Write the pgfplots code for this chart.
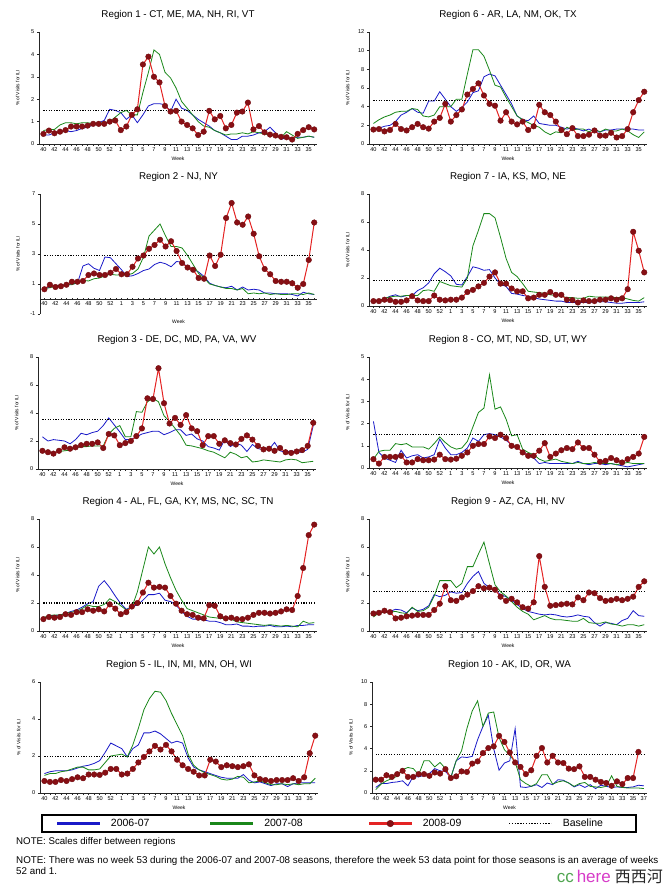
\documentclass[border=0pt]{standalone}
\usepackage{fontspec}
\setmainfont{Liberation Sans}
\newfontfamily\cjk{Noto Sans CJK SC}
\usepackage{pgfplots}
\pgfplotsset{compat=1.18}

\definecolor{c06}{RGB}{25,25,200}
\definecolor{c07}{RGB}{25,135,25}
\definecolor{c08}{RGB}{228,35,35}
\definecolor{mk}{RGB}{135,15,20}
\definecolor{wmgreen}{RGB}{80,165,80}
\definecolor{wmpink}{RGB}{215,60,200}

% one series = one column, rows separated by \\
\newcommand{\ser}[2]{\addplot[#1] table[x expr=\coordindex, y index=0, header=false, row sep=\\]{#2};}

\tikzset{wklabel/.style={at={(axis description cs:0.5,0)}, anchor=center, yshift=#1,
      inner sep=0pt, font=\fontsize{5}{6}\selectfont}}

\pgfplotsset{
  s06/.style={color=c06, draw=c06, line width=0.8pt, mark=none},
  s07/.style={color=c07, draw=c07, line width=0.8pt, mark=none},
  s08/.style={color=c08, draw=c08, line width=1pt, mark=*, mark size=2.8pt,
    mark options={solid, fill=mk, draw=mk!85!black, line width=0.4pt}},
  base/.style={color=black, draw=black, line width=1.1pt, dash pattern=on 1.1pt off 1.5pt, mark=none},
  panel/.style={
    scale only axis, width=278pt, height=112pt, anchor=north west, clip=false,
    xmin=-0.8, xmax=49.5,
    axis x line=bottom, axis y line=left,
    axis line style={-, black!85, line width=0.6pt},
    xtick={0,2,...,48},
    xticklabels={40,42,44,46,48,50,52,1,3,5,7,9,11,13,15,17,19,21,23,25,27,29,31,33,35},
    minor xtick={1,3,...,49},
    tick align=outside, major tick length=2pt, minor tick length=2pt,
    tick style={black!85, line width=0.5pt},
    x tick label style={font=\fontsize{5.6}{6}\selectfont, inner sep=1pt},
    y tick label style={font=\fontsize{5.6}{6}\selectfont, inner sep=2.5pt},
    /pgf/number format/assume math mode=true,
    title style={at={(axis description cs:0.5,1)}, anchor=center, yshift=11pt,
      font=\fontsize{9.8}{11}\selectfont},
    xlabel=Week,
    xlabel style={wklabel=-14.5pt},
    ylabel={\% of Visits for ILI},
    ylabel style={at={(axis description cs:-0.077,0.5)}, anchor=center,
      inner sep=0pt, font=\fontsize{4.8}{5}\selectfont},
  },
}

\begin{document}
\begin{tikzpicture}
\path[use as bounding box] (0pt,0pt) rectangle (667pt,-888pt);

% ---------------- Region 1
\begin{axis}[panel, at={(39pt,-32pt)}, ymin=0, ymax=5, ytick={0,1,...,5},
  title={Region 1 - CT, ME, MA, NH, RI, VT}]
\ser{s06}{0.4\\0.4\\0.5\\0.55\\0.6\\0.55\\0.6\\0.7\\0.75\\0.85\\
0.95\\1.05\\1.55\\1.5\\1.4\\1.1\\1.3\\0.95\\1.3\\1.7\\
1.8\\1.8\\1.75\\1.45\\2.0\\1.6\\1.5\\1.3\\1.1\\0.95\\
0.8\\0.6\\0.5\\0.35\\0.2\\0.2\\0.35\\0.35\\0.4\\0.5\\
0.55\\0.75\\0.5\\0.2\\0.3\\0.25\\0.3\\0.3\\0.35\\0.3\\}
\ser{s07}{0.6\\0.65\\0.65\\0.85\\0.95\\0.95\\0.9\\0.95\\0.95\\0.9\\
0.95\\0.95\\1.0\\1.2\\1.4\\1.5\\1.3\\1.3\\2.3\\3.2\\
4.2\\4.0\\3.2\\2.95\\2.5\\1.9\\1.6\\1.3\\1.0\\0.8\\
0.75\\0.6\\0.5\\0.4\\0.45\\0.45\\0.5\\0.45\\0.55\\0.5\\
0.45\\0.4\\0.35\\0.3\\0.55\\0.4\\0.25\\0.3\\0.35\\0.3\\}
\ser{s08}{0.45\\0.6\\0.48\\0.55\\0.62\\0.78\\0.78\\0.78\\0.82\\0.9\\
0.9\\0.9\\1.0\\1.05\\0.62\\0.78\\1.3\\1.55\\3.55\\3.9\\
3.0\\2.75\\1.7\\1.45\\1.48\\1.0\\0.85\\0.7\\0.4\\0.55\\
1.48\\1.1\\1.25\\0.7\\0.85\\1.4\\1.45\\1.85\\0.65\\0.8\\
0.52\\0.42\\0.38\\0.32\\0.3\\0.2\\0.45\\0.62\\0.75\\0.65\\}
\addplot[base] coordinates {(0,1.5) (49,1.5)};
\end{axis}

% ---------------- Region 6
\begin{axis}[panel, at={(369pt,-32pt)}, ymin=0, ymax=12, ytick={0,2,...,12},
  title={Region 6 - AR, LA, NM, OK, TX}]
\ser{s06}{1.6\\1.7\\1.9\\2.0\\2.4\\3.1\\3.4\\3.8\\3.4\\3.3\\
4.6\\4.6\\5.6\\4.8\\4.0\\3.5\\3.9\\4.5\\5.5\\5.7\\
7.2\\7.5\\7.3\\6.3\\5.3\\4.3\\3.0\\2.6\\2.5\\3.0\\
2.2\\2.1\\2.0\\2.0\\1.8\\1.6\\1.75\\1.6\\1.4\\1.6\\
1.3\\1.3\\1.5\\1.5\\1.6\\1.6\\1.6\\1.6\\1.5\\1.5\\}
\ser{s07}{2.2\\2.6\\2.9\\3.1\\3.4\\3.5\\3.5\\3.8\\3.7\\3.0\\
2.9\\3.1\\4.0\\4.0\\4.0\\4.8\\4.8\\7.5\\10.1\\10.1\\
9.4\\7.9\\6.3\\6.1\\5.0\\4.0\\3.0\\2.6\\2.3\\2.0\\
1.8\\1.3\\1.0\\1.3\\1.2\\1.8\\1.5\\1.6\\1.6\\1.3\\
1.6\\1.3\\1.6\\1.4\\1.4\\1.6\\1.4\\1.0\\0.7\\1.3\\}
\ser{s08}{1.55\\1.6\\1.35\\1.5\\2.15\\1.6\\1.45\\1.8\\2.15\\1.8\\
1.65\\2.4\\2.8\\4.3\\2.4\\3.1\\3.7\\5.3\\5.9\\6.5\\
5.2\\4.3\\4.1\\2.5\\3.4\\2.4\\2.1\\2.4\\1.5\\1.9\\
4.2\\3.4\\3.1\\2.4\\1.5\\1.05\\1.7\\0.85\\0.85\\1.0\\
1.45\\0.9\\0.9\\1.2\\0.7\\0.85\\1.6\\3.4\\4.7\\5.6\\}
\addplot[base] coordinates {(0,4.7) (49,4.7)};
\end{axis}

% ---------------- Region 2
\begin{axis}[panel, at={(40pt,-194pt)}, height=120pt, width=277pt,
  ymin=-1, ymax=7, ytick={-1,1,...,7},
  axis x line=middle, axis line style={-}, hide obscured x ticks=false,
  xlabel style={wklabel=-8pt},
  ylabel style={at={(axis description cs:-0.08,0.5)}},
  title={Region 2 - NJ, NY}]
\ser{s06}{0.7\\0.8\\0.9\\0.9\\0.95\\1.0\\1.05\\2.2\\2.35\\2.05\\
1.9\\2.8\\2.75\\2.35\\1.95\\1.5\\1.55\\1.7\\1.9\\2.0\\
2.3\\2.45\\2.35\\2.15\\2.5\\2.45\\2.1\\2.0\\1.8\\1.5\\
1.05\\0.9\\0.8\\0.75\\0.85\\0.6\\0.8\\0.6\\0.65\\0.6\\
0.4\\0.4\\0.35\\0.35\\0.35\\0.3\\0.2\\0.45\\0.35\\0.3\\}
\ser{s07}{0.7\\0.75\\0.85\\0.9\\0.95\\0.95\\1.1\\1.25\\1.2\\1.35\\
1.4\\1.55\\1.65\\1.6\\1.6\\1.6\\1.7\\2.0\\2.8\\4.2\\
4.6\\5.0\\4.2\\3.5\\3.5\\3.4\\2.9\\2.3\\1.7\\1.4\\
1.0\\0.9\\0.8\\0.7\\0.7\\0.6\\0.7\\0.35\\0.4\\0.35\\
0.4\\0.3\\0.35\\0.3\\0.3\\0.35\\0.35\\0.3\\0.4\\0.3\\}
\ser{s08}{0.65\\0.95\\0.8\\0.85\\0.95\\1.15\\1.15\\1.2\\1.6\\1.7\\
1.6\\1.6\\1.75\\2.0\\1.65\\1.65\\2.15\\2.7\\2.9\\3.35\\
3.6\\3.95\\3.5\\3.85\\3.2\\2.4\\2.1\\1.95\\1.4\\1.35\\
2.9\\2.2\\2.95\\5.4\\6.4\\5.1\\4.95\\5.5\\4.35\\2.85\\
2.0\\1.65\\1.2\\1.15\\1.15\\1.05\\0.75\\1.0\\2.6\\5.1\\}
\addplot[base] coordinates {(0,2.9) (49,2.9)};
\end{axis}

% ---------------- Region 7
\begin{axis}[panel, at={(369pt,-194pt)}, ymin=0, ymax=8, ytick={0,2,...,8},
  title={Region 7 - IA, KS, MO, NE}]
\ser{s06}{0.4\\0.4\\0.5\\0.7\\0.8\\0.65\\0.75\\0.75\\1.1\\1.3\\
1.65\\2.3\\2.7\\2.45\\2.15\\1.55\\1.5\\2.1\\2.8\\2.7\\
2.55\\2.6\\2.0\\1.55\\1.4\\0.9\\0.85\\0.75\\0.7\\0.6\\
0.5\\0.45\\0.4\\0.35\\0.35\\0.25\\0.25\\0.25\\0.25\\0.25\\
0.3\\0.3\\0.3\\0.25\\0.2\\0.2\\0.25\\0.25\\0.25\\0.3\\}
\ser{s07}{0.35\\0.4\\0.55\\0.65\\0.7\\0.7\\0.75\\0.75\\0.75\\1.1\\
1.15\\1.05\\1.75\\1.6\\1.45\\1.4\\1.35\\2.0\\4.3\\5.4\\
6.6\\6.6\\6.3\\4.9\\3.4\\2.4\\2.1\\1.6\\1.05\\1.0\\
0.95\\0.9\\0.8\\0.75\\0.7\\0.6\\0.6\\0.55\\0.55\\0.7\\
0.65\\0.65\\0.65\\0.6\\0.6\\0.6\\0.5\\0.4\\0.35\\0.6\\}
\ser{s08}{0.35\\0.35\\0.45\\0.42\\0.3\\0.3\\0.4\\0.7\\0.4\\0.35\\
0.35\\0.75\\0.45\\0.4\\0.45\\0.45\\0.6\\1.0\\1.15\\1.4\\
1.65\\2.1\\2.4\\1.6\\1.6\\1.25\\1.05\\1.05\\0.55\\0.6\\
0.8\\0.8\\1.0\\0.8\\0.8\\0.45\\0.42\\0.25\\0.4\\0.35\\
0.35\\0.45\\0.45\\0.55\\0.45\\0.55\\1.2\\5.3\\3.95\\2.4\\}
\addplot[base] coordinates {(0,1.85) (49,1.85)};
\end{axis}

% ---------------- Region 3
\begin{axis}[panel, at={(38pt,-357pt)}, ymin=0, ymax=8, ytick={0,2,...,8},
  title={Region 3 - DE, DC, MD, PA, VA, WV}]
\ser{s06}{2.3\\2.0\\2.1\\2.05\\2.0\\1.8\\2.1\\2.55\\2.45\\2.6\\
2.7\\3.1\\3.65\\3.15\\2.65\\2.1\\2.1\\2.3\\2.5\\2.6\\
2.7\\2.7\\2.45\\2.6\\2.8\\2.8\\2.4\\2.5\\2.15\\2.0\\
1.6\\1.5\\1.35\\2.1\\1.6\\1.85\\1.7\\1.25\\1.75\\1.45\\
1.4\\1.4\\1.9\\1.3\\1.2\\1.3\\1.2\\1.2\\1.4\\3.1\\}
\ser{s07}{1.3\\1.2\\1.15\\1.25\\1.3\\1.35\\1.5\\1.6\\1.6\\1.65\\
1.65\\1.65\\2.5\\2.9\\3.1\\2.3\\2.3\\4.1\\4.05\\4.8\\
5.05\\4.8\\3.8\\3.4\\2.9\\2.4\\1.7\\1.65\\1.55\\1.45\\
1.3\\1.2\\1.0\\0.8\\1.2\\1.05\\0.8\\0.9\\0.5\\0.55\\
0.65\\0.6\\0.55\\0.5\\0.65\\0.7\\0.65\\0.45\\0.5\\0.55\\}
\ser{s08}{1.3\\1.2\\1.1\\1.3\\1.55\\1.45\\1.55\\1.7\\1.8\\1.8\\
1.9\\1.5\\2.5\\2.4\\1.7\\1.85\\2.0\\2.35\\2.9\\5.05\\
5.0\\7.2\\4.7\\3.25\\3.65\\3.15\\3.85\\2.9\\2.7\\1.7\\
2.35\\2.35\\1.8\\2.05\\1.85\\1.75\\2.15\\2.4\\2.1\\1.65\\
1.4\\1.45\\1.3\\1.5\\1.2\\1.15\\1.25\\1.35\\1.65\\3.3\\}
\addplot[base] coordinates {(0,3.55) (49,3.55)};
\end{axis}

% ---------------- Region 8
\begin{axis}[panel, at={(369pt,-357pt)}, height=111pt, ymin=0, ymax=5, ytick={0,1,...,5},
  title={Region 8 - CO, MT, ND, SD, UT, WY}]
\ser{s06}{2.1\\0.7\\0.45\\0.35\\0.25\\0.8\\0.45\\0.55\\0.6\\0.45\\
0.5\\0.6\\1.3\\0.9\\0.6\\0.6\\0.7\\0.9\\1.35\\1.2\\
1.5\\1.55\\1.5\\1.4\\1.25\\1.05\\0.9\\0.75\\0.55\\0.45\\
0.2\\0.25\\0.2\\0.2\\0.2\\0.2\\0.2\\0.3\\0.2\\0.15\\
0.2\\0.2\\0.15\\0.2\\0.15\\0.1\\0.05\\0.1\\0.15\\0.2\\}
\ser{s07}{0.4\\0.75\\0.8\\0.8\\1.1\\1.05\\1.1\\0.95\\0.95\\0.95\\
0.85\\1.1\\1.4\\1.15\\0.95\\0.85\\0.9\\1.2\\1.85\\2.5\\
2.7\\4.2\\2.65\\2.75\\2.2\\1.45\\1.5\\0.85\\0.7\\0.6\\
0.4\\0.3\\0.35\\0.4\\0.3\\0.25\\0.2\\0.25\\0.2\\0.2\\
0.25\\0.2\\0.2\\0.2\\0.15\\0.2\\0.25\\0.2\\0.2\\0.2\\}
\ser{s08}{0.4\\0.2\\0.5\\0.5\\0.5\\0.55\\0.25\\0.25\\0.4\\0.35\\
0.35\\0.38\\0.6\\0.4\\0.38\\0.42\\0.55\\0.7\\1.0\\1.08\\
1.08\\1.42\\1.35\\1.5\\1.35\\1.0\\0.95\\0.7\\0.55\\0.55\\
0.78\\1.12\\0.5\\0.65\\0.8\\0.9\\0.85\\1.15\\0.9\\0.9\\
0.6\\0.28\\0.32\\0.45\\0.35\\0.25\\0.4\\0.5\\0.65\\1.4\\}
\addplot[base] coordinates {(0,1.5) (49,1.5)};
\end{axis}

% ---------------- Region 4
\begin{axis}[panel, at={(39pt,-519pt)}, ymin=0, ymax=8, ytick={0,2,...,8},
  title={Region 4 - AL, FL, GA, KY, MS, NC, SC, TN}]
\ser{s06}{0.9\\1.1\\1.1\\1.15\\1.25\\1.4\\1.5\\1.7\\1.95\\2.1\\
3.2\\3.6\\3.1\\2.5\\1.95\\1.55\\1.75\\1.85\\2.2\\2.6\\
2.6\\2.7\\2.2\\2.1\\1.85\\1.4\\1.05\\0.85\\0.85\\0.8\\
0.7\\0.7\\0.6\\0.45\\0.45\\0.5\\0.35\\0.35\\0.3\\0.35\\
0.35\\0.4\\0.3\\0.3\\0.35\\0.3\\0.4\\0.4\\0.45\\0.45\\}
\ser{s07}{0.95\\1.1\\1.15\\1.15\\1.25\\1.35\\1.4\\1.6\\1.85\\1.75\\
1.75\\1.9\\2.3\\2.1\\1.8\\1.5\\1.7\\2.8\\4.4\\6.0\\
5.5\\6.0\\4.8\\3.8\\2.9\\2.2\\1.6\\1.45\\1.3\\1.15\\
1.0\\0.95\\0.9\\0.9\\0.85\\0.65\\0.6\\0.55\\0.5\\0.45\\
0.4\\0.45\\0.4\\0.35\\0.4\\0.35\\0.3\\0.7\\0.55\\0.6\\}
\ser{s08}{0.85\\1.0\\0.95\\1.0\\1.2\\1.15\\1.35\\1.35\\1.55\\1.45\\
1.55\\1.4\\1.9\\1.6\\1.2\\1.35\\1.75\\2.0\\2.75\\3.45\\
3.1\\3.15\\3.1\\2.5\\1.95\\1.45\\1.2\\1.15\\0.95\\0.9\\
1.85\\1.8\\1.05\\0.9\\0.95\\0.85\\0.85\\0.95\\1.15\\1.3\\
1.3\\1.25\\1.3\\1.4\\1.55\\1.5\\2.5\\4.5\\6.85\\7.6\\}
\addplot[base] coordinates {(0,2.0) (49,2.0)};
\end{axis}

% ---------------- Region 9
\begin{axis}[panel, at={(369pt,-519pt)}, ymin=0, ymax=8, ytick={0,2,...,8},
  title={Region 9 - AZ, CA, HI, NV}]
\ser{s06}{1.3\\1.3\\1.35\\1.4\\1.55\\1.5\\1.3\\1.65\\1.45\\1.55\\
1.8\\2.6\\2.45\\2.55\\2.8\\2.7\\2.75\\3.4\\3.9\\4.25\\
3.4\\3.1\\2.9\\2.6\\2.45\\2.2\\1.9\\1.6\\1.4\\1.3\\
1.2\\1.15\\1.2\\1.15\\1.05\\1.0\\1.05\\1.15\\1.05\\1.0\\
0.6\\0.35\\0.6\\0.55\\0.45\\0.75\\0.9\\1.45\\1.1\\1.05\\}
\ser{s07}{1.0\\1.3\\1.35\\1.35\\1.4\\1.3\\1.25\\1.7\\1.4\\1.45\\
1.7\\2.5\\3.6\\3.6\\3.6\\3.1\\3.4\\4.6\\4.6\\5.5\\
6.35\\4.8\\3.3\\2.8\\2.5\\2.1\\1.7\\1.4\\1.2\\0.8\\
0.95\\1.1\\0.9\\0.8\\0.8\\0.75\\0.7\\0.7\\0.9\\0.6\\
0.55\\0.55\\0.65\\0.5\\0.45\\0.35\\0.45\\0.45\\0.35\\0.45\\}
\ser{s08}{1.25\\1.3\\1.45\\1.35\\0.9\\0.95\\1.05\\1.1\\1.15\\1.15\\
1.15\\1.5\\1.95\\3.2\\2.2\\2.15\\2.4\\2.6\\2.85\\3.2\\
3.05\\3.1\\2.95\\2.45\\2.15\\2.3\\2.05\\1.7\\1.6\\2.05\\
5.35\\3.15\\1.8\\1.85\\1.9\\1.95\\1.9\\2.4\\2.2\\2.75\\
2.7\\2.35\\2.15\\2.2\\2.3\\2.2\\2.3\\2.45\\3.15\\3.55\\}
\addplot[base] coordinates {(0,2.8) (49,2.8)};
\end{axis}

% ---------------- Region 5 (carries the legend)
\begin{axis}[panel, at={(40pt,-682pt)}, height=111pt, ymin=0, ymax=6, ytick={0,2,...,6},
  title={Region 5 - IL, IN, MI, MN, OH, WI},
  legend columns=4, legend cell align=left,
  legend style={name=leg, at={(axis description cs:0.007,-0.275)}, anchor=west,
    draw=none, fill=none, inner xsep=15pt, inner ysep=2pt,
    font=\fontsize{10.5}{12}\selectfont,
    /tikz/every odd column/.append style={column sep=9pt},
    /tikz/column 2/.style={column sep=59pt},
    /tikz/column 4/.style={column sep=64pt},
    /tikz/column 6/.style={column sep=45pt}}]
\ser{s06, legend image code/.code={\fill[c06] (0pt,-1.2pt) rectangle (42pt,1.2pt);}}{
1.05\\1.15\\1.2\\1.2\\1.2\\1.25\\1.35\\1.45\\1.5\\1.6\\
1.75\\2.2\\2.7\\2.55\\2.4\\1.95\\2.4\\2.6\\3.25\\3.25\\
3.35\\3.2\\2.95\\2.7\\2.8\\2.7\\1.9\\1.4\\1.25\\1.15\\
1.05\\0.95\\0.85\\0.8\\0.8\\0.8\\1.0\\0.7\\0.55\\0.6\\
0.5\\0.4\\0.5\\0.5\\0.35\\0.5\\0.55\\0.55\\0.55\\0.55\\}
\addlegendentry{2006-07}
\ser{s07, legend image code/.code={\fill[c07] (0pt,-1.2pt) rectangle (42pt,1.2pt);}}{
0.95\\1.05\\1.05\\1.15\\1.2\\1.3\\1.4\\1.4\\1.25\\1.25\\
1.3\\1.65\\2.0\\2.05\\2.1\\1.95\\2.6\\3.5\\4.5\\5.1\\
5.5\\5.45\\5.0\\4.3\\3.7\\3.1\\2.1\\1.5\\1.25\\1.1\\
1.0\\0.9\\0.75\\0.7\\0.75\\0.9\\0.85\\0.55\\0.6\\0.65\\
0.55\\0.45\\0.45\\0.5\\0.45\\0.5\\0.45\\0.5\\0.5\\0.8\\}
\addlegendentry{2007-08}
\ser{s08, legend image code/.code={\fill[c08] (0pt,-1.2pt) rectangle (42pt,1.2pt);
    \draw plot[mark=*, mark size=3.3pt, mark options={fill=mk, draw=mk!85!black, line width=0.4pt}]
    coordinates {(21pt,0pt)};}}{
0.65\\0.6\\0.6\\0.7\\0.65\\0.75\\0.85\\0.8\\1.0\\1.0\\
0.98\\1.1\\1.3\\1.3\\1.0\\1.05\\1.3\\1.65\\1.95\\2.25\\
2.55\\2.35\\2.6\\2.25\\1.8\\1.5\\1.3\\1.15\\0.95\\0.95\\
1.8\\1.7\\1.4\\1.5\\1.45\\1.4\\1.45\\1.55\\0.95\\0.75\\
0.7\\0.65\\0.7\\0.7\\0.7\\0.8\\0.65\\0.85\\2.15\\3.1\\}
\addlegendentry{2008-09}
\addplot[base, legend image code/.code={\draw[black, line width=1.4pt,
    dash pattern=on 1.4pt off 1.4pt] (0pt,0pt) -- (42pt,0pt);}]
  coordinates {(0,1.95) (49,1.95)};
\addlegendentry{Baseline}
\end{axis}
\draw[black, line width=1.6pt] (leg.north west) rectangle (636pt,0 |- leg.south);

% ---------------- Region 10
\begin{axis}[panel, at={(372pt,-682pt)}, height=111pt, width=275pt,
  xmin=-0.7, xmax=50.6, xtick={0,2,...,50},
  xticklabels={40,42,44,46,48,50,52,1,3,5,7,9,11,13,15,17,19,21,23,25,27,29,31,33,35,37},
  minor xtick={1,3,...,49},
  ymin=0, ymax=10, ytick={0,2,...,10},
  title={Region 10 - AK, ID, OR, WA}]
\ser{s06}{0.5\\0.85\\0.85\\0.95\\1.0\\1.1\\0.65\\1.5\\1.45\\1.6\\
1.75\\2.2\\2.0\\1.95\\1.4\\2.9\\3.25\\3.2\\3.3\\4.8\\
6.0\\7.0\\4.0\\2.05\\2.7\\2.9\\5.8\\0.55\\0.5\\0.6\\
0.75\\0.5\\0.9\\0.75\\1.2\\1.15\\0.9\\0.55\\0.75\\0.5\\
0.75\\0.4\\0.7\\0.6\\0.5\\0.55\\0.5\\0.5\\0.55\\0.7\\
0.65\\}
\ser{s07}{0.3\\0.8\\1.1\\1.3\\1.5\\2.1\\2.3\\2.2\\1.65\\2.9\\
2.9\\2.35\\2.75\\2.2\\1.4\\2.9\\3.8\\5.8\\7.4\\8.3\\
6.0\\7.2\\7.3\\5.0\\3.9\\3.4\\2.8\\1.2\\0.85\\0.6\\
0.85\\1.65\\1.65\\0.8\\1.0\\1.1\\0.9\\0.6\\0.85\\0.95\\
0.6\\0.55\\0.5\\0.6\\1.55\\0.6\\0.5\\0.45\\0.45\\0.45\\
0.4\\}
\ser{s08}{1.2\\1.2\\1.6\\1.45\\1.7\\2.0\\1.45\\1.45\\1.7\\1.7\\
1.55\\1.85\\1.75\\2.15\\1.35\\1.5\\1.95\\1.9\\2.65\\2.85\\
3.6\\4.05\\4.2\\5.15\\4.6\\3.65\\2.75\\2.35\\1.7\\2.05\\
3.35\\4.05\\2.75\\3.35\\2.75\\2.7\\2.2\\2.15\\2.4\\1.45\\
1.45\\1.2\\1.0\\0.9\\0.65\\1.05\\0.8\\1.35\\1.35\\3.7\\}
\addplot[base] coordinates {(0,3.5) (50,3.5)};
\end{axis}

% ---------------- notes
\node[anchor=west, inner sep=0pt, font=\fontsize{9.7}{11}\selectfont] at (16pt,-842pt)
  {NOTE: Scales differ between regions};
\node[anchor=north west, inner sep=0pt, align=left, font=\fontsize{9.8}{11.5}\selectfont] at (16pt,-856pt)
  {NOTE: There was no week 53 during the 2006-07 and 2007-08 seasons, therefore the week 53 data point for those seasons is an average of weeks\\52 and 1.};
\node[anchor=east, inner sep=0pt] at (663pt,-877pt)
  {{\fontsize{17}{17}\selectfont\color{wmgreen}cc}\hspace{3pt}{\fontsize{17}{17}\selectfont\color{wmpink}here}\hspace{4pt}{\cjk\fontsize{16}{16}\selectfont\color{black!85}西西河}};
\end{tikzpicture}
\end{document}
